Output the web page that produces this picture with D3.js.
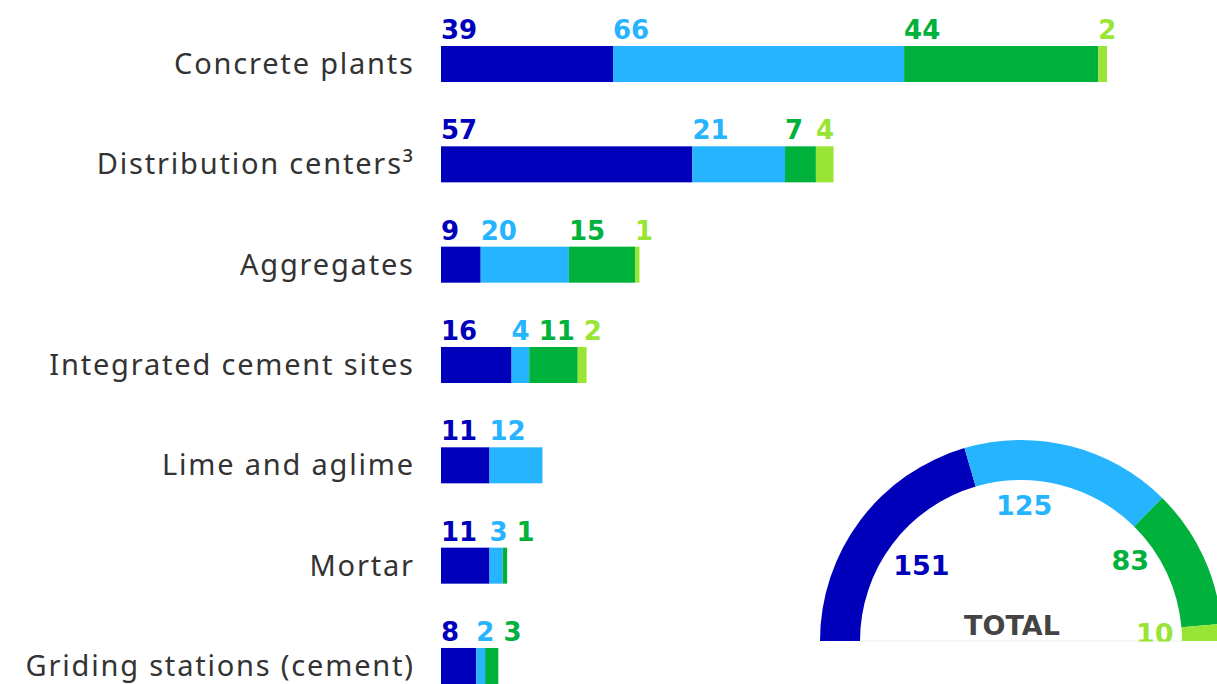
<!DOCTYPE html>
<html>
<head>
<meta charset="utf-8">
<script src="https://cdn.jsdelivr.net/npm/d3@7"></script>
<style>
  body { margin: 0; background: #fff; }
  svg { display: block; }
  .cat { font-family: "Noto Sans", sans-serif; font-size: 29px; fill: #333; letter-spacing: 1.8px; }
  .val { font-family: "DejaVu Sans", sans-serif; font-weight: bold; font-size: 26px; }
</style>
</head>
<body>
<svg id="chart" width="1217" height="684"></svg>
<script>
// categories (top to bottom)
const categories = [
  'Concrete plants',
  'Distribution centers\u00B3',
  'Aggregates',
  'Integrated cement sites',
  'Lime and aglime',
  'Mortar',
  'Griding stations (cement)'
];

// series values, one array per colour, same order as categories
const seriesDark  = [39, 57, 9, 16, 11, 11, 8];
const seriesLight = [66, 21, 20, 4, 12, 3, 2];
const seriesGreen = [44, 7, 15, 11, 0, 1, 3];
const seriesLime  = [2, 4, 1, 2, 0, 0, 0];

// gauge totals
const gaugeTotals = [151, 125, 83, 10];
const gaugeTitle = 'TOTAL';

const colors = ['#0000bb', '#27b4ff', '#00b13c', '#98e536'];

const svg = d3.select('#chart');
const width = +svg.attr('width');
const height = +svg.attr('height');

const seriesKeys = ['dark', 'light', 'green', 'lime'];
const rows = categories.map((c, i) => ({
  cat: c,
  dark: seriesDark[i],
  light: seriesLight[i],
  green: seriesGreen[i],
  lime: seriesLime[i]
}));

const stack = d3.stack().keys(seriesKeys);
const stacked = stack(rows);

const totals = rows.map(r => seriesKeys.reduce((s, k) => s + r[k], 0));

const xScale = d3.scaleLinear()
  .domain([0, d3.max(totals)])
  .range([441, 1107]);

const yScale = d3.scaleBand()
  .domain(categories)
  .range([46, 684])
  .paddingInner(0.641)
  .paddingOuter(0);

const color = d3.scaleOrdinal().domain(seriesKeys).range(colors);

// bars
const barsG = svg.append('g').attr('class', 'bars');
barsG.selectAll('g.series')
  .data(stacked)
  .join('g')
    .attr('class', 'series')
    .attr('fill', d => color(d.key))
  .selectAll('rect')
  .data(d => d.filter(p => p[1] - p[0] > 0))
  .join('rect')
    .attr('x', d => xScale(d[0]))
    .attr('y', d => yScale(d.data.cat))
    .attr('width', d => xScale(d[1]) - xScale(d[0]))
    .attr('height', yScale.bandwidth());

// category labels (letter-spacing leaves a trailing gap, so nudge right)
svg.append('g')
  .selectAll('text')
  .data(categories)
  .join('text')
    .attr('class', 'cat')
    .attr('x', 414.8)
    .attr('y', d => yScale(d) + yScale.bandwidth() / 2 + 10)
    .attr('text-anchor', 'end')
    .text(d => d);

// value labels above each segment, pushed right when they would overlap
const labelsG = svg.append('g').attr('class', 'value-labels');
rows.forEach((r, i) => {
  let prevEnd = -Infinity;
  seriesKeys.forEach((k, si) => {
    const v = r[k];
    if (!v) return;
    const seg = stacked[si][i];
    const t = labelsG.append('text')
      .attr('class', 'val')
      .attr('fill', colors[si])
      .attr('y', yScale(r.cat) - 7)
      .text(v);
    const w = t.node().getComputedTextLength();
    const x = Math.max(xScale(seg[0]), prevEnd + 9);
    t.attr('x', x);
    prevEnd = x + w;
  });
});

// gauge
const cx = 1021, cy = 641;
const outerR = 201, innerR = 161;

const gauge = svg.append('g')
  .attr('transform', `translate(${cx},${cy})`);

svg.append('defs').append('clipPath')
  .attr('id', 'gauge-clip')
  .append('rect')
    .attr('x', -cx).attr('y', -cy)
    .attr('width', width).attr('height', cy + 0.5);

const pie = d3.pie()
  .sort(null)
  .value(d => d)
  .startAngle(-Math.PI / 2)
  .endAngle(Math.PI / 2);

const arc = d3.arc()
  .innerRadius(innerR)
  .outerRadius(outerR);

const arcs = pie(gaugeTotals);

gauge.selectAll('path')
  .data(arcs)
  .join('path')
    .attr('d', arc)
    .attr('fill', (d, i) => colors[i]);

// faint base line
gauge.append('line')
  .attr('x1', -innerR).attr('x2', innerR)
  .attr('y1', 0).attr('y2', 0)
  .attr('stroke', '#eeeeee')
  .attr('stroke-width', 1);

// label placement inside the ring: angle (deg from vertical), radius
const gaugeLabelPos = [[-52.8, 125], [1.3, 136], [53.4, 136], [86.6, 134]];

gauge.append('g')
  .attr('clip-path', 'url(#gauge-clip)')
  .selectAll('text')
  .data(arcs)
  .join('text')
    .attr('class', 'val')
    .style('font-size', '27px')
    .attr('fill', (d, i) => colors[i])
    .attr('text-anchor', 'middle')
    .attr('x', (d, i) => gaugeLabelPos[i][1] * Math.sin(gaugeLabelPos[i][0] * Math.PI / 180))
    .attr('y', (d, i) => -gaugeLabelPos[i][1] * Math.cos(gaugeLabelPos[i][0] * Math.PI / 180) + 10)
    .text(d => d.data);

gauge.append('text')
  .attr('class', 'val')
  .style('font-size', '27px')
  .attr('fill', '#444')
  .attr('text-anchor', 'middle')
  .attr('x', -9)
  .attr('y', -6)
  .text(gaugeTitle);
</script>
</body>
</html>
